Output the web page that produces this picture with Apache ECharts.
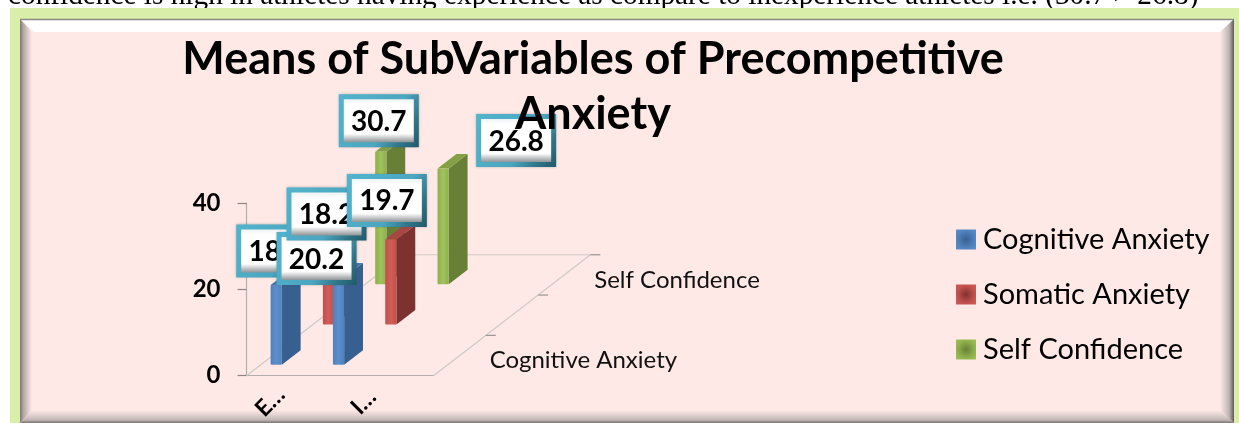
<!DOCTYPE html>
<html>
<head>
<meta charset="utf-8">
<style>
  html, body { margin: 0; padding: 0; background: #fff; }
  #chart { width: 1239px; height: 423px; }
</style>
<script src="https://cdn.jsdelivr.net/npm/echarts@6/dist/echarts.min.js"></script>
</head>
<body>
<div id="chart"></div>
<script>
// data
var xLabels = ['E…', '', '', 'I…', '', ''];
var barSlots = [0, 2];
var depthLabels = ['Cognitive Anxiety', '', 'Self Confidence'];
var seriesNames = ['Cognitive Anxiety', 'Somatic Anxiety', 'Self Confidence'];
var cognitive = [18.5, 20.2];
var somatic = [18.2, 19.7];
var confidence = [30.7, 26.8];
var titleText = 'Means of SubVariables of Precompetitive\nAnxiety';
var aboveText = 'confidence is high in athletes having experience as compare to inexperience athletes i.e. (30.7 > 26.8)';

var FONT = 'Lato';
// fake 3d: one depth row moves this much on screen
var DX = 52.3, DY = -40.3;
var colors = [
    {front: '#4F81BD', light: '#5B8FCC', side: '#375F8F', top: '#4A78AE'},
    {front: '#C0504D', light: '#D25C58', side: '#7E3230', top: '#A84643'},
    {front: '#8FB04C', light: '#A0C45C', side: '#687F38', top: '#84A044'}
];
// label boxes were moved by hand in the original, [dx, dy] from the top of each bar
var labelNudge = [
    [[0, -34], [-22, -19]],
    [[-2, -32], [-4, -39]],
    [[-2, -31], [73, -28]]
];

function project(api, slot, value, depth) {
    var p = api.coord([slot, value]);
    return [p[0] + depth * DX, p[1] + depth * DY];
}

function barItem(row) {
    return function (params, api) {
        var slot = api.value(0), value = api.value(1);
        var w = api.size([1, 0])[0] * 0.36;
        var d0 = row + 0.27, sx = 0.36 * DX, sy = 0.36 * DY;
        var c = colors[row];
        var b = project(api, slot, 0, d0);
        var t = project(api, slot, value, d0);
        var l = b[0] - w / 2, r = b[0] + w / 2;
        return {
            type: 'group',
            children: [
                {type: 'polygon', shape: {points: [[r, b[1]], [r + sx, b[1] + sy], [r + sx, t[1] + sy], [r, t[1]]]},
                    style: {fill: c.side}},
                {type: 'polygon', shape: {points: [[l, t[1]], [r, t[1]], [r + sx, t[1] + sy], [l + sx, t[1] + sy]]},
                    style: {fill: c.top}},
                {type: 'rect', shape: {x: l, y: t[1], width: w, height: b[1] - t[1], r: 1},
                    style: {fill: new echarts.graphic.LinearGradient(0, 0, 1, 0, [
                        {offset: 0, color: c.front}, {offset: 0.5, color: c.light}, {offset: 1, color: c.front}
                    ])}}
            ]
        };
    };
}

function floorItem(params, api) {
    var g = params.coordSys;
    var x0 = g.x, x1 = g.x + g.width, y0 = g.y + g.height;
    var dep = 3, lines = [];
    var lineStyle = {stroke: '#CFCAC8', lineWidth: 1.2};
    lines.push({type: 'line', shape: {x1: x0, y1: y0, x2: x0 + dep * DX, y2: y0 + dep * DY}, style: lineStyle});
    lines.push({type: 'line', shape: {x1: x1, y1: y0, x2: x1 + dep * DX, y2: y0 + dep * DY}, style: lineStyle});
    lines.push({type: 'line', shape: {x1: x0 + dep * DX, y1: y0 + dep * DY, x2: x1 + dep * DX, y2: y0 + dep * DY}, style: lineStyle});
    for (var k = 1; k <= dep; k++) {
        lines.push({type: 'line', shape: {x1: x1 + k * DX, y1: y0 + k * DY, x2: x1 + k * DX + 10, y2: y0 + k * DY},
            style: {stroke: '#9A9593', lineWidth: 1.2}});
    }
    for (var i = 0; i < depthLabels.length; i++) {
        lines.push({type: 'text', x: x1 + (i + 0.5) * DX + 30, y: y0 + (i + 0.5) * DY + 5,
            style: {text: depthLabels[i], font: '24px ' + FONT, fill: '#111', align: 'left', verticalAlign: 'middle'}});
    }
    return {type: 'group', children: lines};
}

function labelItem(params, api) {
    var row = api.value(0), i = api.value(1), value = api.value(2);
    var t = project(api, barSlots[i], value, row + 0.27);
    var n = labelNudge[row][i];
    var cx = t[0] + n[0], cy = t[1] + n[1];
    var bw = 80, bh = 53, x = cx - bw / 2, y = cy - bh / 2;
    return {
        type: 'group',
        children: [
            {type: 'rect', shape: {x: x, y: y, width: bw, height: bh},
                style: {fill: new echarts.graphic.LinearGradient(0, 0, 1, 1, [
                    {offset: 0, color: '#52B4CE'}, {offset: 0.6, color: '#4BA6BF'},
                    {offset: 0.82, color: '#2F7488'}, {offset: 1, color: '#215968'}
                ]), shadowBlur: 3, shadowColor: 'rgba(60,80,90,0.5)'}},
            {type: 'rect', shape: {x: x + 5, y: y + 5, width: bw - 10, height: bh - 10},
                style: {fill: new echarts.graphic.LinearGradient(0, 0, 0, 1, [
                    {offset: 0, color: '#EEF3F5'}, {offset: 0.12, color: '#FFFFFF'}, {offset: 0.8, color: '#FFFFFF'},
                    {offset: 1, color: '#8F9496'}
                ])}},
            {type: 'text', x: cx, y: cy + 1,
                style: {text: value.toFixed(1), font: 'bold 28px ' + FONT, fill: '#000', align: 'center', verticalAlign: 'middle'}}
        ]
    };
}

function barData(values) {
    return values.map(function (v, i) { return [barSlots[i], v]; });
}

// draw order of the boxes, later ones sit on top
var labelData = [[0, 0, cognitive[0]], [0, 1, cognitive[1]], [1, 0, somatic[0]], [1, 1, somatic[1]], [2, 0, confidence[0]], [2, 1, confidence[1]]];

function legendIcon(c) {
    return new echarts.graphic.RadialGradient(0.5, 0.5, 0.7, [
        {offset: 0, color: c.side}, {offset: 0.6, color: c.front}, {offset: 1, color: c.light}
    ]);
}

var myChart = echarts.init(document.getElementById('chart'));
myChart.setOption({
    animation: false,
    backgroundColor: '#fff',
    title: {
        text: titleText,
        left: 588,
        top: 27,
        textAlign: 'center',
        z: 20,
        textStyle: {fontFamily: FONT, fontSize: 45, fontWeight: 'bold', color: '#000', lineHeight: 55}
    },
    legend: {
        orient: 'vertical',
        left: 951,
        top: 218,
        itemWidth: 20,
        itemHeight: 20,
        itemGap: 22,
        selectedMode: false,
        textStyle: {fontFamily: FONT, fontSize: 29, color: '#000', padding: [0, 0, 0, 2], lineHeight: 33},
        data: seriesNames.map(function (n, i) {
            return {name: n, icon: 'rect', itemStyle: {color: legendIcon(colors[i])}};
        })
    },
    grid: {left: 246.5, top: 203, width: 187, height: 173},
    xAxis: {
        type: 'category',
        data: xLabels,
        axisLine: {lineStyle: {color: '#B3AEAC', width: 1.2}},
        axisTick: {alignWithLabel: false, length: 7, lineStyle: {color: '#8C8785', width: 1.2}},
        axisLabel: {interval: 0, rotate: 45, margin: 18, align: 'center', verticalAlign: 'top',
            fontFamily: FONT, fontSize: 23, fontWeight: 'bold', color: '#000'}
    },
    yAxis: {
        type: 'value',
        min: 0,
        max: 40,
        interval: 20,
        axisLine: {show: true, lineStyle: {color: '#B3AEAC', width: 1.2}},
        axisTick: {show: true, length: 9, lineStyle: {color: '#8C8785', width: 1.2}},
        splitLine: {show: false},
        axisLabel: {margin: 26, fontFamily: FONT, fontSize: 24, fontWeight: 'bold', color: '#000'}
    },
    graphic: [
        {type: 'text', z: -5, silent: true, x: 8, y: -18,
            style: {text: aboveText, font: '29.3px "Liberation Serif"', fill: '#000'}},
        {type: 'rect', z: -5, silent: true, shape: {x: 10, y: 8, width: 1229, height: 415}, style: {fill: '#D8EEA9'}},
        {type: 'rect', z: -4, silent: true, shape: {x: 20, y: 19, width: 1214, height: 404}, style: {fill: '#FFE9E6'}},
        {type: 'polygon', z: -3, silent: true, shape: {points: [[20, 19], [1234, 19], [1222, 32], [34, 32]]}, style: {fill: '#FFFFFF'}},
        {type: 'line', z: -2, silent: true, shape: {x1: 20, y1: 19.5, x2: 1234, y2: 19.5}, style: {stroke: '#8E8886', lineWidth: 1.5}},
        {type: 'polygon', z: -3, silent: true, shape: {points: [[20, 19], [32, 32], [32, 410], [20, 423]]},
            style: {fill: new echarts.graphic.LinearGradient(0, 0, 1, 0, [
                {offset: 0, color: '#7F7977'}, {offset: 0.3, color: '#B3A9A8'}, {offset: 1, color: '#FFE9E6'}
            ])}},
        {type: 'polygon', z: -3, silent: true, shape: {points: [[20, 423], [32, 410], [1220, 410], [1234, 423]]},
            style: {fill: new echarts.graphic.LinearGradient(0, 0, 0, 1, [
                {offset: 0, color: '#FFE9E6'}, {offset: 0.75, color: '#C4BAB9'}, {offset: 1, color: '#7A7472'}
            ])}},
        {type: 'polygon', z: -3, silent: true, shape: {points: [[1234, 19], [1220, 32], [1220, 410], [1234, 423]]},
            style: {fill: new echarts.graphic.LinearGradient(0, 0, 1, 0, [
                {offset: 0, color: '#FFE9E6'}, {offset: 0.65, color: '#BEB4B3'}, {offset: 1, color: '#5F5957'}
            ])}}
    ],
    series: [
        {type: 'custom', z: 1, silent: true, renderItem: floorItem, data: [[0, 0]]},
        {type: 'custom', name: seriesNames[2], z: 2, silent: true, renderItem: barItem(2), data: barData(confidence), encode: {x: 0, y: 1}},
        {type: 'custom', name: seriesNames[1], z: 3, silent: true, renderItem: barItem(1), data: barData(somatic), encode: {x: 0, y: 1}},
        {type: 'custom', name: seriesNames[0], z: 4, silent: true, renderItem: barItem(0), data: barData(cognitive), encode: {x: 0, y: 1}},
        {type: 'custom', z: 5, silent: true, renderItem: labelItem, data: labelData}
    ]
});
</script>
</body>
</html>
